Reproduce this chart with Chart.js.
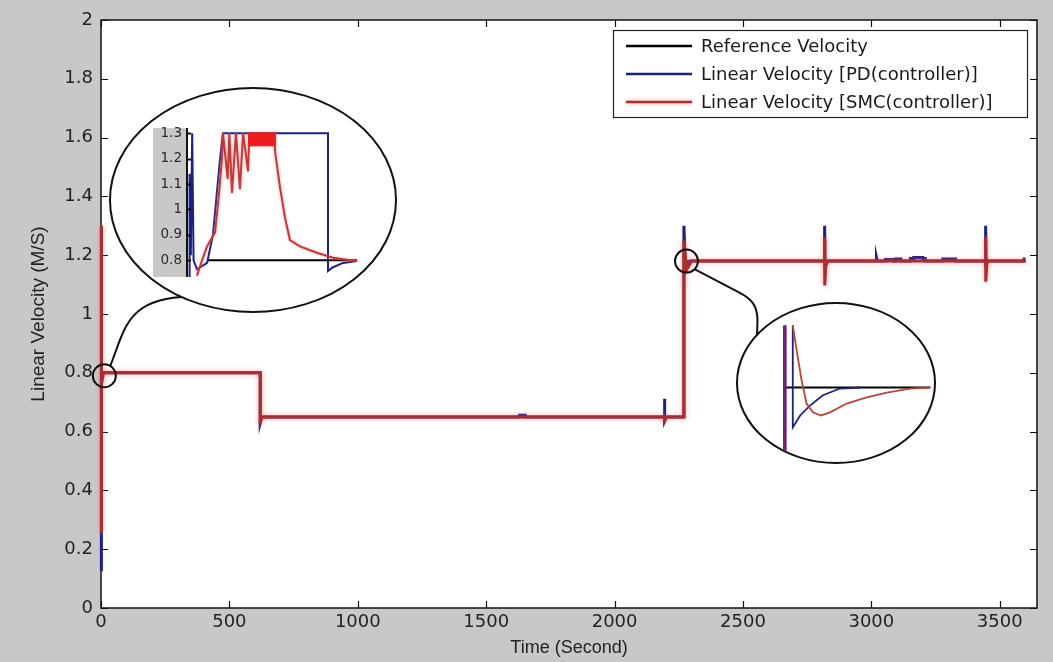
<!DOCTYPE html>
<html>
<head>
<meta charset="utf-8">
<script src="https://cdn.jsdelivr.net/npm/chart.js@4.4.1/dist/chart.umd.min.js"></script>
<style>
  html, body { margin: 0; padding: 0; background: #c8c8c8; }
  #wrap { position: relative; width: 1053px; height: 662px; overflow: hidden; }
  canvas { position: absolute; display: block; }
  #main { left: 0; top: 0; }
  #zoomStart { left: 140px; top: 115px; }
  #zoomStep { left: 770px; top: 315px; }
</style>
</head>
<body>
<div id="wrap">
  <canvas id="main" width="1053" height="662"></canvas>
  <canvas id="zoomStart" width="230" height="175"></canvas>
  <canvas id="zoomStep" width="170" height="145"></canvas>
</div>
<script>
// ---- Axis ticks ----
const timeTicks = [0, 500, 1000, 1500, 2000, 2500, 3000, 3500];
const velTicks = [0, 0.2, 0.4, 0.6, 0.8, 1, 1.2, 1.4, 1.6, 1.8, 2];
const zoomVelTicks = [0.8, 0.9, 1, 1.1, 1.2, 1.3];

// ---- Reference velocity (s, m/s) ----
const timeRef = [0, 620, 620, 2270, 2270, 3600];
const velRef  = [0.8, 0.8, 0.65, 0.65, 1.18, 1.18];

// ---- PD controller response ----
const timePD = [0, 0, 3, 8, 620, 620, 626, 1630, 1630, 1652, 1652, 2194, 2194, 2196, 2202, 2270, 2270, 2276, 2292,
  2818, 2818, 2820, 2830, 3020, 3020, 3023, 3055, 3055, 3086, 3086, 3095, 3095, 3115, 3115, 3152, 3152, 3165, 3165,
  3200, 3200, 3210, 3210, 3278, 3278, 3328, 3328, 3445, 3445, 3447, 3456, 3595, 3595, 3600];
const velPD  = [0.13, 1.3, 0.77, 0.8, 0.8, 0.63, 0.65, 0.65, 0.656, 0.656, 0.65, 0.65, 0.712, 0.636, 0.65, 0.65, 1.3, 1.16, 1.18,
  1.18, 1.3, 1.16, 1.18, 1.18, 1.192, 1.18, 1.18, 1.185, 1.185, 1.18, 1.18, 1.187, 1.187, 1.18, 1.18, 1.189, 1.189, 1.192,
  1.192, 1.189, 1.189, 1.18, 1.18, 1.187, 1.187, 1.18, 1.18, 1.3, 1.17, 1.18, 1.18, 1.187, 1.187];

// ---- SMC controller response ----
const timeSMC = [0, 0, 3, 10, 620, 620, 624, 2194, 2194, 2197, 2270, 2270, 2280, 2300, 2818, 2818, 2819, 2823,
  3445, 3445, 3446, 3450, 3600];
const velSMC  = [0.26, 1.3, 0.76, 0.8, 0.8, 0.625, 0.65, 0.65, 0.63, 0.65, 0.65, 1.25, 1.15, 1.18, 1.18, 1.26, 1.097, 1.18,
  1.18, 1.26, 1.11, 1.18, 1.18];

// ---- Close-up of the start-up transient ----
const zsTime   = [1.16, 9.83];
const zsRef    = [0.8, 0.8];
const zsTimePD = [0.15, 0.15, 0.22, 0.3, 0.38, 0.58, 1.16, 1.5, 1.91, 2.08, 8.15, 8.15, 8.44, 9.02, 9.83];
const zsPD     = [0.735, 1.14, 0.82, 1.3, 0.8, 0.765, 0.79, 0.9, 1.2, 1.3, 1.3, 0.758, 0.773, 0.79, 0.797];
const zsTimeSMC = [0.58, 0.75, 1.16, 1.62, 1.85, 2.02, 2.08, 2.35, 2.45, 2.6, 2.83, 3.06, 3.24, 3.53, 3.6,
  5.09, 5.09, 5.38, 5.66, 5.95, 6.53, 7.51, 8.44, 9.83];
const zsSMC     = [0.74, 0.777, 0.855, 0.91, 1.06, 1.2, 1.3, 1.12, 1.3, 1.065, 1.3, 1.08, 1.3, 1.15, 1.3,
  1.3, 1.227, 1.085, 0.97, 0.88, 0.855, 0.83, 0.81, 0.797];
// chattering band of the SMC output
const zsBandTime = [3.53, 5.09];
const zsBandHigh = [1.3, 1.3];
const zsBandLow  = [1.25, 1.25];

// ---- Close-up of the step at t = 2270 s ----
const zjTimeRef = [0.625, 9.7];
const zjRef     = [1.18, 1.18];
const zjTimePD  = [0.625, 0.625, null, 1.12, 1.12, 1.58, 2.19, 3.0, 4.06, 5.31];
const zjPD      = [1.058, 1.3, null, 1.3, 1.103, 1.126, 1.145, 1.165, 1.178, 1.18];
const zjTimeSMC = [0.625, 0.625, null, 1.12, 1.36, 1.67, 1.98, 2.38, 2.88, 3.44, 4.48, 5.73, 6.98, 8.44, 9.7];
const zjSMC     = [1.058, 1.3, null, 1.3, 1.252, 1.194, 1.149, 1.132, 1.126, 1.132, 1.149, 1.161, 1.17, 1.178, 1.18];

// anchor points of the two callouts (data units of the main axes)
const calloutStart = [13, 0.79];
const calloutStep  = [2280, 1.18];

const BLUE = '#1b1f86';
const RED = '#ad2c2c';
const TICK_FONT = "'DejaVu Sans', sans-serif";
const TITLE_FONT = "'Liberation Sans Narrow', 'Liberation Sans', Arial, sans-serif";

function pts(xs, ys) {
  return xs.map((x, i) => ({ x: x === null ? NaN : x, y: ys[i] }));
}
function fmt(v) { return String(Number(v.toFixed(2))); }

// light pink glow around the SMC trace
const glowPlugin = {
  id: 'glow',
  beforeDatasetDraw(chart, args) {
    const ds = chart.data.datasets[args.index];
    chart.ctx.save();
    if (ds.glow) {
      chart.ctx.shadowColor = ds.glow;
      chart.ctx.shadowBlur = ds.glowBlur || 5;
    }
  },
  afterDatasetDraw(chart) { chart.ctx.restore(); }
};

// axes box with inward ticks, callouts and legend for the main figure
const framePlugin = {
  id: 'frame',
  beforeDraw(chart) {
    const { ctx, chartArea: a } = chart;
    ctx.save();
    ctx.fillStyle = '#ffffff';
    ctx.fillRect(a.left, a.top, a.right - a.left, a.bottom - a.top);
    ctx.restore();
  },
  beforeDatasetsDraw(chart) {
    const { ctx, chartArea: a, scales } = chart;
    ctx.save();
    ctx.strokeStyle = '#111';
    ctx.lineWidth = 1.5;
    ctx.strokeRect(a.left, a.top, a.right - a.left, a.bottom - a.top);
    const tl = 7;
    ctx.beginPath();
    timeTicks.forEach(v => {
      const x = Math.round(scales.x.getPixelForValue(v)) + 0.5;
      ctx.moveTo(x, a.bottom); ctx.lineTo(x, a.bottom - tl);
      ctx.moveTo(x, a.top); ctx.lineTo(x, a.top + tl);
    });
    velTicks.forEach(v => {
      const y = Math.round(scales.y.getPixelForValue(v)) + 0.5;
      ctx.moveTo(a.left, y); ctx.lineTo(a.left + tl, y);
      ctx.moveTo(a.right, y); ctx.lineTo(a.right - tl, y);
    });
    ctx.lineWidth = 1.2;
    ctx.stroke();
    ctx.restore();
  },
  afterDraw(chart, args, opts) {
    const { ctx, scales } = chart;
    ctx.save();
    ctx.strokeStyle = '#111';
    ctx.lineWidth = 2;
    // callout ellipses
    opts.ellipses.forEach(e => {
      ctx.beginPath();
      ctx.ellipse(e.cx, e.cy, e.rx, e.ry, 0, 0, Math.PI * 2);
      ctx.fillStyle = '#fff';
      ctx.fill();
      ctx.stroke();
    });
    // small circles at the anchor points
    const p1 = [scales.x.getPixelForValue(calloutStart[0]), scales.y.getPixelForValue(calloutStart[1])];
    const p2 = [scales.x.getPixelForValue(calloutStep[0]), scales.y.getPixelForValue(calloutStep[1])];
    [p1, p2].forEach(p => {
      ctx.beginPath();
      ctx.arc(p[0], p[1], 11.5, 0, Math.PI * 2);
      ctx.stroke();
    });
    // connectors
    const e1 = opts.ellipses[0], e2 = opts.ellipses[1];
    ctx.beginPath();
    ctx.moveTo(p1[0] + 6, p1[1] - 10);
    ctx.bezierCurveTo(p1[0] + 20, p1[1] - 45, p1[0] + 22, p1[1] - 75, e1.cx - 72, e1.cy + 97);
    ctx.stroke();
    ctx.beginPath();
    ctx.moveTo(p2[0] + 8, p2[1] + 8);
    ctx.lineTo(p2[0] + 52, p2[1] + 31);
    ctx.bezierCurveTo(p2[0] + 66, p2[1] + 38, p2[0] + 71, p2[1] + 45, p2[0] + 71, p2[1] + 60);
    ctx.lineTo(e2.cx - 79, e2.cy - 48);
    ctx.stroke();

    // legend
    const L = opts.legend;
    ctx.fillStyle = '#fff';
    ctx.fillRect(L.x, L.y, L.w, L.h);
    ctx.lineWidth = 1.2;
    ctx.strokeStyle = '#222';
    ctx.strokeRect(L.x + 0.5, L.y + 0.5, L.w, L.h);
    ctx.font = "18px " + TICK_FONT;
    ctx.textBaseline = 'middle';
    chart.data.datasets.slice(0, 3).forEach((ds, i) => {
      const y = L.y + 16 + i * 28;
      ctx.save();
      if (ds.glow) { ctx.shadowColor = ds.glow; ctx.shadowBlur = 4; }
      ctx.strokeStyle = ds.borderColor;
      ctx.lineWidth = 2.5;
      ctx.beginPath();
      ctx.moveTo(L.x + 13, y); ctx.lineTo(L.x + 79, y);
      ctx.stroke();
      ctx.restore();
      ctx.fillStyle = '#1a1a1a';
      ctx.fillText(ds.label, L.x + 88, y + 1);
    });
    ctx.restore();
  }
};

new Chart(document.getElementById('main'), {
  type: 'line',
  data: {
    datasets: [
      { label: 'Reference Velocity', data: pts(timeRef, velRef), borderColor: '#000', borderWidth: 2, order: 3 },
      { label: 'Linear Velocity [PD(controller)]', data: pts(timePD, velPD), borderColor: BLUE, borderWidth: 3, order: 2, clip: 6 },
      { label: 'Linear Velocity [SMC(controller)]', data: pts(timeSMC, velSMC), borderColor: RED, borderWidth: 3, order: 1, clip: 8,
        glow: 'rgba(255,100,100,0.65)', glowBlur: 5 }
    ]
  },
  options: {
    responsive: false,
    animation: false,
    events: [],
    elements: { point: { radius: 0 }, line: { tension: 0, borderCapStyle: 'butt', borderJoinStyle: 'miter' } },
    layout: { padding: { left: 0, top: 20, right: 16, bottom: 0 } },
    plugins: {
      legend: { display: false },
      tooltip: { enabled: false },
      frame: {
        ellipses: [ { cx: 253, cy: 200, rx: 143, ry: 112 }, { cx: 836, cy: 383, rx: 99, ry: 80 } ],
        legend: { x: 613, y: 30, w: 414, h: 87 }
      }
    },
    scales: {
      x: {
        type: 'linear', min: 0, max: 3645,
        afterFit(s) { s.height = 54; },
        afterBuildTicks(s) { s.ticks = timeTicks.map(v => ({ value: v })); },
        ticks: { color: '#222', font: { family: TICK_FONT, size: 18 }, padding: 4, maxRotation: 0, callback: v => String(v) },
        grid: { display: false, drawTicks: false },
        border: { display: false },
        title: { display: true, text: 'Time (Second)', color: '#222', font: { family: TITLE_FONT, size: 18 }, padding: { top: 0, bottom: 3 } }
      },
      y: {
        min: 0, max: 2,
        afterFit(s) { s.width = 101; },
        afterBuildTicks(s) { s.ticks = velTicks.map(v => ({ value: v })); },
        ticks: { color: '#222', font: { family: TICK_FONT, size: 18 }, padding: 8, callback: v => fmt(v) },
        grid: { display: false, drawTicks: false },
        border: { display: false },
        title: { display: true, text: 'Linear Velocity (M/S)', color: '#222', font: { family: TITLE_FONT, size: 19 }, padding: { top: 27, bottom: 0 } }
      }
    }
  },
  plugins: [glowPlugin, framePlugin]
});

// y axis strip of the start-up close-up
const zoomAxisPlugin = {
  id: 'zoomAxis',
  beforeDraw(chart) {
    const { ctx, chartArea: a, scales } = chart;
    ctx.save();
    ctx.fillStyle = '#c8c8c8';
    ctx.fillRect(scales.y.left, a.top, a.left - scales.y.left, a.bottom - a.top);
    ctx.restore();
  },
  afterDraw(chart) {
    const { ctx, chartArea: a, scales } = chart;
    ctx.save();
    ctx.strokeStyle = '#111';
    ctx.lineWidth = 2;
    ctx.beginPath();
    ctx.moveTo(a.left, a.top); ctx.lineTo(a.left, a.bottom);
    zoomVelTicks.forEach(v => {
      const y = Math.round(scales.y.getPixelForValue(v)) + 0.5;
      ctx.moveTo(a.left, y); ctx.lineTo(a.left + 4, y);
    });
    ctx.stroke();
    ctx.restore();
  }
};

new Chart(document.getElementById('zoomStart'), {
  type: 'line',
  data: {
    datasets: [
      { data: pts(zsBandTime, zsBandHigh), borderColor: '#ee1c1c', borderWidth: 1, order: 1 },
      { data: pts(zsBandTime, zsBandLow), borderColor: '#ee1c1c', borderWidth: 1, backgroundColor: '#ee1c1c', fill: '-1', order: 1 },
      { data: pts(zsTimeSMC, zsSMC), borderColor: '#c03a3a', borderWidth: 2, order: 2, glow: 'rgba(255,120,120,0.7)', glowBlur: 3 },
      { data: pts(zsTimePD, zsPD), borderColor: BLUE, borderWidth: 2, order: 3 },
      { data: pts(zsTime, zsRef), borderColor: '#000', borderWidth: 2, order: 4 }
    ]
  },
  options: {
    responsive: false,
    animation: false,
    events: [],
    elements: { point: { radius: 0 }, line: { tension: 0 } },
    layout: { padding: { left: 13, right: 10, top: 11, bottom: 12 } },
    plugins: { legend: { display: false }, tooltip: { enabled: false } },
    scales: {
      x: { type: 'linear', min: 0, max: 10, display: false },
      y: {
        min: 0.735, max: 1.32,
        afterFit(s) { s.width = 34; },
        afterBuildTicks(s) { s.ticks = zoomVelTicks.map(v => ({ value: v })); },
        ticks: { color: '#2a2a2a', font: { family: TICK_FONT, size: 13.5 }, padding: 5, callback: v => fmt(v) },
        grid: { display: false, drawTicks: false },
        border: { display: false }
      }
    }
  },
  plugins: [glowPlugin, zoomAxisPlugin]
});

new Chart(document.getElementById('zoomStep'), {
  type: 'line',
  data: {
    datasets: [
      { data: pts(zjTimeSMC, zjSMC), borderColor: '#b8473a', borderWidth: 1.8, order: 1,
        segment: { borderColor: c => (c.p0.parsed.x === c.p1.parsed.x && c.p0DataIndex === 0) ? 'rgba(150,40,120,0.6)' : undefined } },
      { data: pts(zjTimePD, zjPD), borderColor: BLUE, borderWidth: 1.8, order: 2,
        segment: { borderColor: c => (c.p0DataIndex === 0) ? '#4a1a78' : undefined, borderWidth: c => (c.p0DataIndex === 0) ? 3.5 : undefined } },
      { data: pts(zjTimeRef, zjRef), borderColor: '#000', borderWidth: 1.8, order: 3 }
    ]
  },
  options: {
    responsive: false,
    animation: false,
    events: [],
    spanGaps: false,
    elements: { point: { radius: 0 }, line: { tension: 0 } },
    layout: { padding: 0 },
    plugins: { legend: { display: false }, tooltip: { enabled: false } },
    scales: {
      x: { type: 'linear', min: -0.3, max: 10.3, display: false },
      y: { min: 1.04, max: 1.32, display: false }
    }
  },
  plugins: [glowPlugin]
});
</script>
</body>
</html>
